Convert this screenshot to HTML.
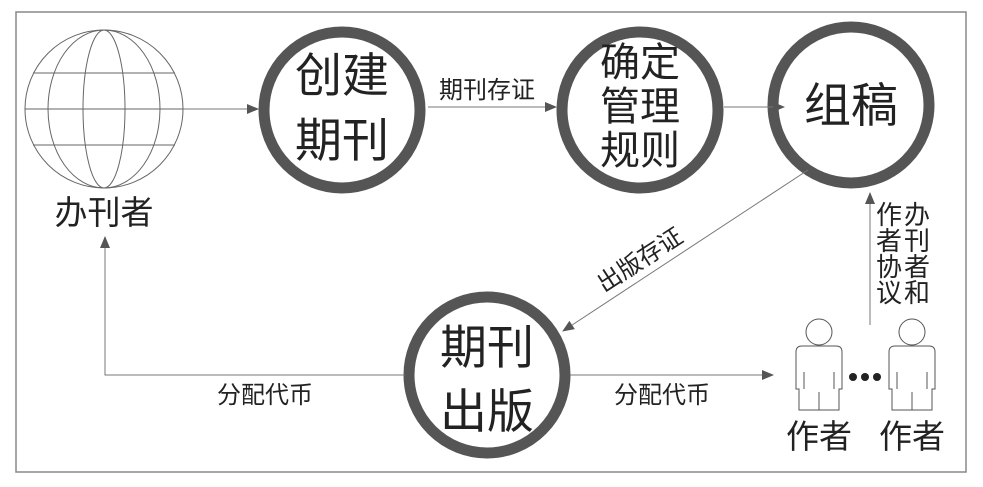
<!DOCTYPE html>
<html><head><meta charset="utf-8"><style>
html,body{margin:0;padding:0;background:#fff;}
svg{display:block;}
text{font-family:"Liberation Sans","Noto Sans CJK SC",sans-serif;fill:#222;}
</style></head><body>
<svg width="983" height="487" viewBox="0 0 983 487" xmlns="http://www.w3.org/2000/svg">
<defs>
<marker id="a" markerWidth="12" markerHeight="10" refX="11" refY="5" orient="auto" markerUnits="userSpaceOnUse">
<path d="M0,0 L12,5 L0,10 Z" fill="#555"/></marker>
</defs>
<rect x="16" y="12" width="950" height="460" fill="#fff" stroke="#888" stroke-width="1.5"/>
<g fill="none" stroke="#666" stroke-width="1">
<circle cx="104" cy="109" r="79"/>
<ellipse cx="104" cy="109" rx="56" ry="79"/>
<ellipse cx="104" cy="109" rx="21" ry="79"/>
<line x1="25" y1="109" x2="183" y2="109"/>
<line x1="33" y1="73" x2="175" y2="73"/>
<line x1="33" y1="145" x2="175" y2="145"/>
</g>
<text x="104" y="224" font-size="33" text-anchor="middle">办刊者</text>
<g fill="#fff" stroke="#555" stroke-width="11">
<circle cx="342" cy="110" r="78"/>
<circle cx="640" cy="110" r="78"/>
<circle cx="851" cy="105" r="78"/>
<circle cx="487" cy="375" r="78"/>
</g>
<text x="342" y="92" font-size="47" text-anchor="middle">创建</text>
<text x="342" y="157" font-size="47" text-anchor="middle">期刊</text>
<text x="640" y="76" font-size="40" text-anchor="middle">确定</text>
<text x="640" y="120" font-size="40" text-anchor="middle">管理</text>
<text x="640" y="164" font-size="40" text-anchor="middle">规则</text>
<text x="851" y="122" font-size="47" text-anchor="middle">组稿</text>
<text x="487" y="364" font-size="47" text-anchor="middle">期刊</text>
<text x="487" y="428" font-size="47" text-anchor="middle">出版</text>
<g stroke="#777" stroke-width="1" fill="none" marker-end="url(#a)">
<line x1="183" y1="109" x2="258" y2="109"/>
<line x1="428" y1="107" x2="556" y2="107"/>
<line x1="724" y1="107" x2="784" y2="107"/>
<line x1="808" y1="170" x2="563" y2="331"/>
<line x1="870" y1="325" x2="870" y2="193"/>
<line x1="570" y1="375" x2="773" y2="375"/>
<polyline points="405,375 105,375 105,237"/>
</g>
<text x="487" y="98" font-size="24" text-anchor="middle">期刊存证</text>
<text x="640" y="268" font-size="24" text-anchor="middle" transform="rotate(-33 640 260)">出版存证</text>
<text x="265" y="403" font-size="24" text-anchor="middle">分配代币</text>
<text x="662" y="403" font-size="24" text-anchor="middle">分配代币</text>
<g font-size="26">
<text x="876" y="224">作</text><text x="876" y="250">者</text><text x="876" y="276">协</text><text x="876" y="302">议</text>
<text x="904" y="224">办</text><text x="904" y="250">刊</text><text x="904" y="276">者</text><text x="904" y="302">和</text>
</g>
<g fill="#fff" stroke="#555" stroke-width="1">
<circle cx="819" cy="332" r="13"/>
<path d="M799,410 L799,389 L796,389 L796,352 Q796,346 802,346 L836,346 Q842,346 842,352 L842,389 L839,389 L839,410 Z"/>
<line x1="819" y1="392" x2="819" y2="410"/>
<line x1="804" y1="372" x2="804" y2="389"/>
<line x1="834" y1="372" x2="834" y2="389"/>
<circle cx="912" cy="332" r="13"/>
<path d="M892,410 L892,389 L889,389 L889,352 Q889,346 895,346 L929,346 Q935,346 935,352 L935,389 L932,389 L932,410 Z"/>
<line x1="912" y1="392" x2="912" y2="410"/>
<line x1="897" y1="372" x2="897" y2="389"/>
<line x1="927" y1="372" x2="927" y2="389"/>
</g>
<g fill="#222"><circle cx="853" cy="377" r="4"/><circle cx="865" cy="377" r="4"/><circle cx="877" cy="377" r="4"/></g>
<text x="819" y="448" font-size="33" text-anchor="middle">作者</text>
<text x="912" y="448" font-size="33" text-anchor="middle">作者</text>
</svg>
</body></html>
